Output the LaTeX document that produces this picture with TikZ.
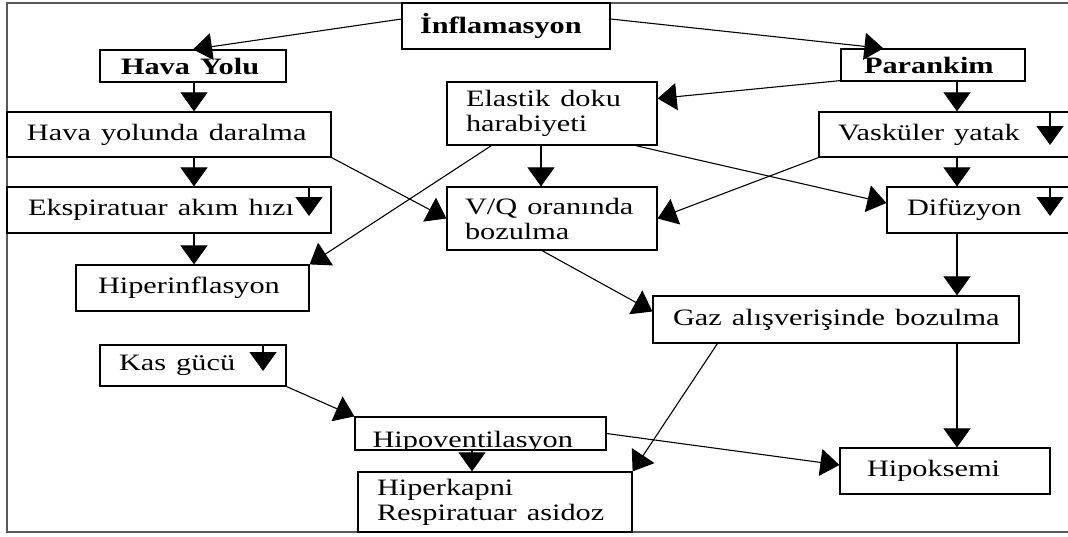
\documentclass[tikz,border=0pt]{standalone}
\usepackage{graphicx}
\usepackage{fontspec}
\setmainfont{Liberation Serif}
\usetikzlibrary{arrows.meta,calc}
\newcommand\tx[1]{\scalebox{1.29}[1]{#1}}
\newcommand\bx[7]{%
  \pgfmathsetmacro\bxtw{#4-#2-2*#6}%
  \pgfmathsetmacro\bxw{#4-#2}%
  \pgfmathsetmacro\bxh{#5-#3}%
  \node[box,inner xsep=#6pt,text width=\bxtw pt,minimum width=\bxw pt,minimum height=\bxh pt] (#1) at ({(#2+#4)/2},{(#3+#5)/2}) {#7};}
\tikzset{
  txt/.style={font=\fontsize{23.5}{25}\selectfont},
  box/.style={draw=black, line width=1.2pt, rectangle, inner ysep=2pt, align=left,
    txt, fill=white},
  arr/.style={line width=1.1pt, -{Triangle[length=19pt,width=27pt]}},
  frame/.style={line width=1.6pt, draw=black!65}
}
\begin{document}
\begin{tikzpicture}[x=1pt,y=-1pt]
\clip (0,0) rectangle (1068,536);
\fill[white] (0,0) rectangle (1068,536);
\draw[frame] (1068,3) -- (7,3) -- (7,532) -- (1068,532);
% boxes
\bx{infl}{402}{3}{610}{49}{18}{\tx{\textbf{İnflamasyon}}}
\bx{hy}{100}{50}{286}{82}{21}{\tx{\textbf{Hava Yolu}}}
\bx{par}{841}{49}{1025}{81}{23}{\tx{\textbf{Parankim}}}
\bx{el}{447}{82}{657}{145}{19}{\tx{Elastik doku}\\\tx{harabiyeti}}
\bx{dar}{7}{112}{331}{157}{20}{\tx{Hava yolunda daralma}}
\bx{vas}{819}{112}{1075}{157}{19}{\tx{Vasküler yatak}}
\bx{eks}{7}{187}{331}{233}{21}{\tx{Ekspiratuar akım hızı}}
\bx{vq}{447}{187}{657}{250}{18}{\tx{V/Q oranında}\\\tx{bozulma}}
\bx{dif}{887}{187}{1075}{233}{20}{\tx{Difüzyon}}
\bx{hinf}{76}{265}{309}{311}{22}{\tx{Hiperinflasyon}}
\bx{gaz}{653}{296}{1019}{343}{20}{\tx{Gaz alışverişinde bozulma}}
\bx{kas}{100}{345}{286}{386}{19}{\tx{Kas gücü}}
\node[box, minimum width=251pt, minimum height=33pt] (hv) at (480.5,433.5) {};
\begin{scope}
  \clip (hv.south west) rectangle (hv.north east);
  \node[txt, anchor=base west, inner sep=0pt] (hvtext) at ([xshift=18pt,yshift=3pt]hv.south west) {\tx{Hipoventilasyon}};
\end{scope}
\bx{hk}{358}{472}{632}{532}{19}{\tx{Hiperkapni}\\\tx{Respiratuar asidoz}}
\bx{hok}{840}{448}{1050}{494}{27}{\tx{Hipoksemi}}
% column coordinates
\coordinate (c194) at (194,0);
\coordinate (c541) at (541,0);
\coordinate (c957) at (957,0);
\coordinate (c472) at (472,0);
% connectors
\draw[arr] ([yshift=7pt]infl.west) -- (hy.north);
\draw[arr] ([yshift=7pt]infl.east) -- ([xshift=43pt]par.north west);
\draw[arr] (hy.south -| c194) -- (dar.north -| c194);
\draw[arr] ([yshift=1pt]par.south west) -- ([yshift=15pt]el.east);
\draw[arr] (par.south -| c957) -- (vas.north -| c957);
\draw[arr] (dar.south -| c194) -- (eks.north -| c194);
\draw[arr] (eks.south -| c194) -- (hinf.north -| c194);
\draw[arr] (el.south -| c541) -- (vq.north -| c541);
\draw[arr] ([xshift=45pt]el.south west) -- (hinf.north east);
\draw[arr] (dar.south east) -- (vq.west);
\draw[arr] ([xshift=-22pt]el.south east) -- ([yshift=7pt]dif.west);
\draw[arr] (vas.south west) -- (vq.east);
\draw[arr] (vas.south -| c957) -- (dif.north -| c957);
\draw[arr] (dif.south -| c957) -- (gaz.north -| c957);
\draw[arr] ([xshift=-10pt]vq.south) -- ([yshift=8pt]gaz.west);
\draw[arr] ([xshift=65pt]gaz.south west) -- (hk.north east);
\draw[arr] (gaz.south -| c957) -- (hok.north -| c957);
\draw[arr] (kas.south east) -- (hv.north west);
\draw[arr] (hv.south -| c472) -- (hk.north -| c472);
\draw[arr] (hv.east) -- ([yshift=6pt]hok.west);
% arrows inside boxes
\coordinate (vasT) at (1050,145);
\coordinate (eksT) at (309,216);
\coordinate (difT) at (1050,216);
\coordinate (kasT) at (263,371);
\draw[arr] (vas.north -| vasT) -- (vasT);
\draw[arr] (eks.north -| eksT) -- (eksT);
\draw[arr] (dif.north -| difT) -- (difT);
\draw[arr] (kas.north -| kasT) -- (kasT);
\end{tikzpicture}
\end{document}
